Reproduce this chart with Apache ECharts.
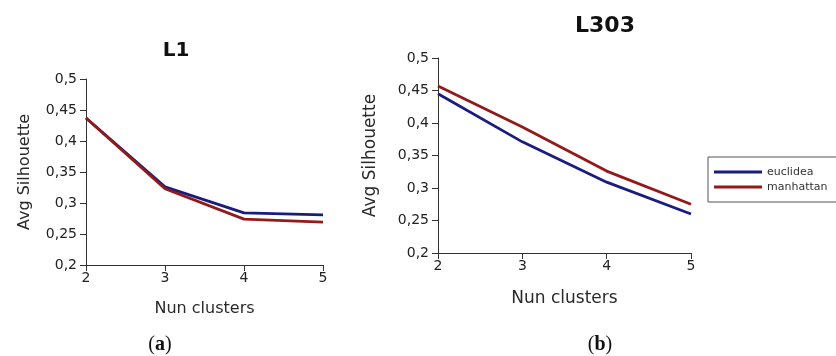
<!DOCTYPE html>
<html>
<head>
<meta charset="utf-8">
<script src="https://cdn.jsdelivr.net/npm/echarts@6/dist/echarts.min.js"></script>
<style>
  html, body { margin: 0; padding: 0; background: #fff; }
  #chart { width: 836px; height: 356px; }
</style>
</head>
<body>
<div id="chart"></div>
<script>
// cluster counts on the x axis
const clusters = [2, 3, 4, 5];

// panel (a) L1
const l1Euclidea = [0.437, 0.326, 0.284, 0.281];
const l1Manhattan = [0.437, 0.323, 0.274, 0.269];

// panel (b) L303
const l303Euclidea = [0.445, 0.371, 0.309, 0.260];
const l303Manhattan = [0.457, 0.394, 0.326, 0.275];

const seriesNames = ['euclidea', 'manhattan'];
const panelTitles = ['L1', 'L303'];
const panelLabels = ['a', 'b'];

const BLUE = '#1a1c80';
const RED = '#941a1a';
const FONT = 'DejaVu Sans';

const chart = echarts.init(document.getElementById('chart'));

const fmt = v => String(Math.round(v * 100) / 100).replace('.', ',');

function xAxisFor(gridIndex, nameSize, gap) {
  return {
    type: 'value', gridIndex, min: 2, max: 5, interval: 1,
    name: 'Nun clusters', nameLocation: 'middle', nameGap: gap,
    nameTextStyle: { fontFamily: FONT, fontSize: nameSize, color: '#2a2a2a' },
    axisLine: { lineStyle: { color: '#333', width: 1 } },
    axisTick: { show: true, length: 6, lineStyle: { color: '#333' } },
    axisLabel: { fontFamily: FONT, fontSize: 14, color: '#222', margin: 6 },
    splitLine: { show: false }
  };
}

function yAxisFor(gridIndex, nameSize, gap) {
  return {
    type: 'value', gridIndex, min: 0.2, max: 0.5, interval: 0.05,
    name: 'Avg Silhouette', nameLocation: 'middle', nameGap: gap, nameRotate: 90,
    nameTextStyle: { fontFamily: FONT, fontSize: nameSize, color: '#2a2a2a' },
    axisLine: { show: true, lineStyle: { color: '#333', width: 1 } },
    axisTick: { show: true, length: 6, lineStyle: { color: '#333' } },
    axisLabel: { fontFamily: FONT, fontSize: 14, color: '#222', margin: 9, formatter: fmt },
    splitLine: { show: false }
  };
}

function line(name, values, color, idx) {
  return {
    name, type: 'line', xAxisIndex: idx, yAxisIndex: idx,
    data: clusters.map((c, i) => [c, values[i]]),
    showSymbol: false, symbol: 'none',
    lineStyle: { color, width: 2.8 },
    itemStyle: { color },
    animation: false
  };
}

const option = {
  backgroundColor: '#fff',
  title: [
    { text: panelTitles[0], left: 171, top: 36, textAlign: 'center',
      textStyle: { fontFamily: FONT, fontSize: 20, fontWeight: 'bold', color: '#111' } },
    { text: panelTitles[1], left: 600, top: 10, textAlign: 'center',
      textStyle: { fontFamily: FONT, fontSize: 22, fontWeight: 'bold', color: '#111' } }
  ],
  legend: {
    data: seriesNames,
    orient: 'vertical',
    left: 708, top: 157,
    icon: 'rect', itemWidth: 48, itemHeight: 3, itemGap: 3,
    padding: [9, 20, 9, 6],
    borderColor: '#555', borderWidth: 1,
    textStyle: { fontFamily: FONT, fontSize: 11, color: '#333', lineHeight: 12 }
  },
  grid: [
    { left: 86, right: 513, top: 79, bottom: 91 },
    { left: 438, right: 145, top: 58, bottom: 103 }
  ],
  xAxis: [xAxisFor(0, 16, 36), xAxisFor(1, 17, 37)],
  yAxis: [yAxisFor(0, 16, 53), yAxisFor(1, 17, 59)],
  series: [
    line(seriesNames[0], l1Euclidea, BLUE, 0),
    line(seriesNames[1], l1Manhattan, RED, 0),
    line(seriesNames[0], l303Euclidea, BLUE, 1),
    line(seriesNames[1], l303Manhattan, RED, 1)
  ],
  graphic: [
    { type: 'text', x: 160, y: 345, style: {
      rich: { p: { fontFamily: 'Liberation Serif', fontSize: 20, fill: '#111' },
              b: { fontFamily: 'Liberation Serif', fontSize: 20, fontWeight: 'bold', fill: '#111' } },
      text: '{p|(}{b|' + panelLabels[0] + '}{p|)}', align: 'center', verticalAlign: 'middle' } },
    { type: 'text', x: 600, y: 345, style: {
      rich: { p: { fontFamily: 'Liberation Serif', fontSize: 20, fill: '#111' },
              b: { fontFamily: 'Liberation Serif', fontSize: 20, fontWeight: 'bold', fill: '#111' } },
      text: '{p|(}{b|' + panelLabels[1] + '}{p|)}', align: 'center', verticalAlign: 'middle' } }
  ]
};

chart.setOption(option);
window.addEventListener('resize', () => chart.resize());
</script>
</body>
</html>
